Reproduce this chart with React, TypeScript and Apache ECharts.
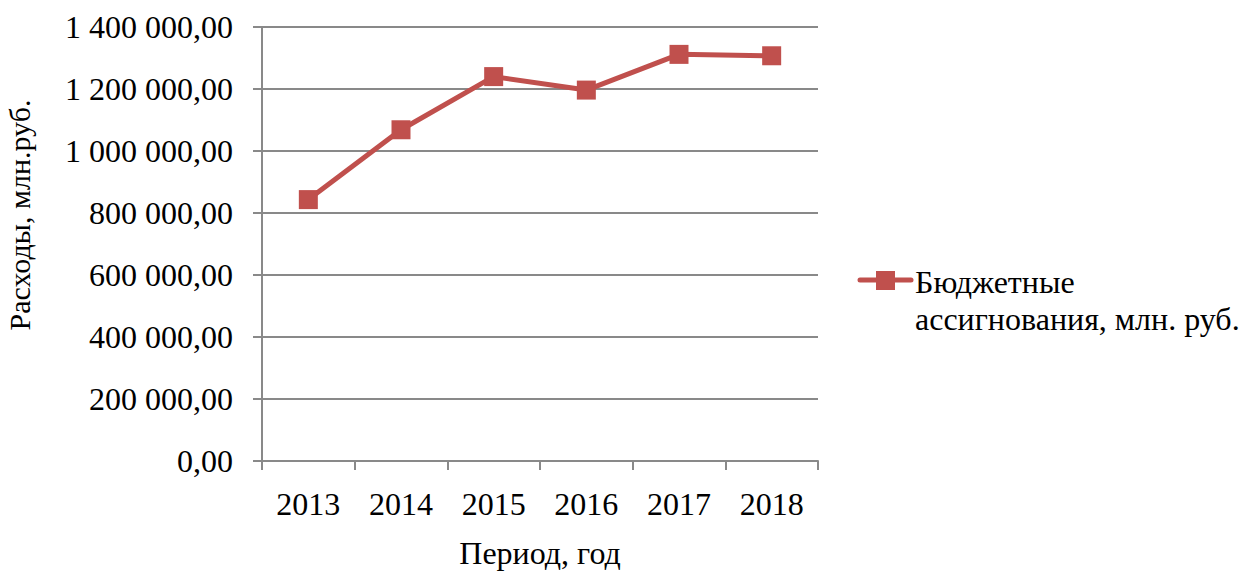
import React, { useEffect, useRef } from "react";
import * as echarts from "echarts";

const categories = ["2013", "2014", "2015", "2016", "2017", "2018"];
const budgetValues = [843200, 1068500, 1240000, 1196500, 1311700, 1307200];
const seriesName = "Бюджетные\nассигнования, млн. руб.";
const yAxisTitle = "Расходы, млн.руб.";
const xAxisTitle = "Период, год";

const FONT = "Liberation Serif";
const FS = 32;
const RED = "#C0504D";
const GRID = "#898989";

function fmt(v: number): string {
  const s = Math.round(v).toString().replace(/\B(?=(\d{3})+(?!\d))/g, " ");
  return s + ",00";
}

export default function App() {
  const ref = useRef<HTMLDivElement>(null);
  useEffect(() => {
    if (!ref.current) return;
    const chart = echarts.init(ref.current, undefined, { renderer: "svg" });
    chart.setOption({
      animation: false,
      backgroundColor: "#fff",
      title: {
        text: seriesName,
        left: 910,
        top: 258,
        textStyle: { fontFamily: FONT, fontSize: FS, fontWeight: "normal", color: "#000", lineHeight: 37 },
      },
      grid: { left: 262, right: 423, top: 27, bottom: 110, containLabel: false },
      xAxis: {
        type: "category",
        data: categories,
        boundaryGap: true,
        name: xAxisTitle,
        nameLocation: "middle",
        nameGap: 76,
        nameTextStyle: { fontFamily: FONT, fontSize: FS, color: "#000" },
        axisLine: { lineStyle: { color: GRID, width: 2 } },
        axisTick: { show: true, length: 9, alignWithLabel: false, lineStyle: { color: GRID, width: 2 } },
        axisLabel: { fontFamily: FONT, fontSize: FS, color: "#000", margin: 27 },
      },
      yAxis: {
        type: "value",
        min: 0,
        max: 1400000,
        interval: 200000,
        name: yAxisTitle,
        nameLocation: "middle",
        nameRotate: 90,
        nameGap: 228,
        nameTextStyle: { fontFamily: FONT, fontSize: 30, color: "#000", padding: [0, 0, 0, 58] },
        axisLine: { show: true, lineStyle: { color: GRID, width: 2 } },
        axisTick: { show: true, length: 9, lineStyle: { color: GRID, width: 2 } },
        splitLine: { show: true, lineStyle: { color: GRID, width: 2 } },
        axisLabel: { fontFamily: FONT, fontSize: FS, color: "#000", margin: 29, formatter: (v: number) => fmt(v) },
      },
      series: [
        {
          name: seriesName,
          type: "line",
          data: budgetValues,
          symbol: "rect",
          symbolSize: 19,
          lineStyle: { color: RED, width: 5 },
          itemStyle: { color: RED },
        },
      ],
      graphic: [
        {
          type: "line",
          shape: { x1: 860, y1: 280, x2: 911, y2: 280 },
          style: { stroke: RED, lineWidth: 5, lineCap: "round" },
        },
        {
          type: "rect",
          shape: { x: 876, y: 271, width: 19, height: 19 },
          style: { fill: RED },
        },
      ],
    });
    return () => chart.dispose();
  }, []);
  return <div ref={ref} style={{ position: "fixed", left: 0, top: 0, width: 1241, height: 574 }} />;
}
